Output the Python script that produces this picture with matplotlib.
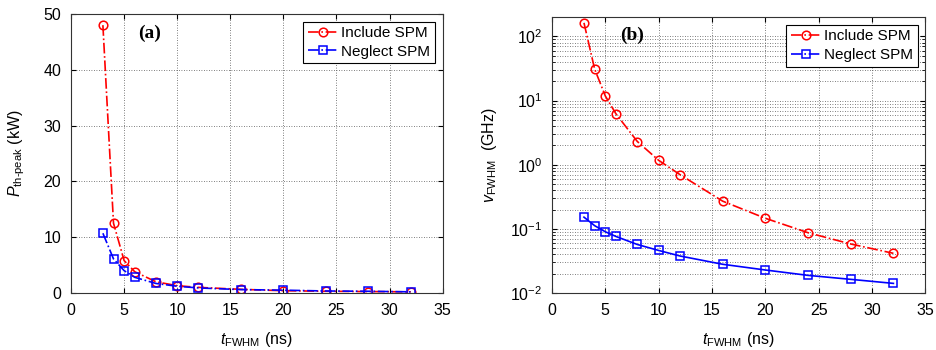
import matplotlib.pyplot as plt
import matplotlib.ticker as ticker
from matplotlib.lines import Line2D

plt.rcParams['font.family'] = ['Liberation Sans', 'DejaVu Sans']
plt.rcParams['mathtext.fontset'] = 'custom'
plt.rcParams['mathtext.rm'] = 'Liberation Sans'
plt.rcParams['mathtext.it'] = 'Liberation Sans:italic'

t_fwhm = [3, 4, 5, 6, 8, 10, 12, 16, 20, 24, 28, 32]

# (a) threshold peak power, kW
p_include = [48.0, 12.5, 5.8, 3.8, 2.0, 1.3, 1.0, 0.65, 0.4, 0.3, 0.25, 0.2]
p_neglect = [10.7, 6.1, 4.0, 2.8, 1.7, 1.2, 0.9, 0.6, 0.5, 0.35, 0.3, 0.2]

# (b) spectral width, GHz
v_include = [163, 31, 11.8, 6.2, 2.3, 1.17, 0.70, 0.27, 0.146, 0.087, 0.058, 0.0415]
v_neglect = [0.152, 0.112, 0.090, 0.076, 0.057, 0.046, 0.0377, 0.028, 0.0228, 0.0188, 0.0163, 0.0141]

RED = '#ff0000'
BLUE = '#0000ff'
MS = 6.2

fig = plt.figure(figsize=(9.36, 3.5), dpi=100)
ax1 = fig.add_axes([0.0759, 0.163, 0.397, 0.797])
ax2 = fig.add_axes([0.5897, 0.163, 0.399, 0.788])

grid_kw = dict(color='#555555', linestyle=(0, (1, 2)), linewidth=0.6)

# ---- (a)
ax1.plot(t_fwhm, p_include, color=RED, linestyle='-.', linewidth=1.2,
         marker='o', markersize=MS, markerfacecolor='none', markeredgewidth=1.1)
ax1.plot(t_fwhm, p_neglect, color=BLUE, linestyle='-.', linewidth=1.2,
         marker='s', markersize=MS, markerfacecolor='none', markeredgewidth=1.1)
ax1.set_xlim(0, 35)
ax1.set_ylim(0, 50)
ax1.xaxis.set_major_locator(ticker.MultipleLocator(5))
ax1.yaxis.set_major_locator(ticker.MultipleLocator(10))
ax1.grid(True, which='major', **grid_kw)
ax1.set_xlabel(r'$t_{\mathrm{FWHM}}$ (ns)', fontsize=11.5, labelpad=9)
ax1.set_ylabel(r'$P_{\mathrm{th}\text{-}\mathrm{peak}}$ (kW)', fontsize=11.5, labelpad=12)
ax1.text(0.18, 0.932, '(a)', transform=ax1.transAxes, fontsize=14,
         fontweight='bold', family='Liberation Serif', va='center', ha='left')

# ---- (b)
ax2.plot(t_fwhm, v_include, color=RED, linestyle='-.', linewidth=1.2,
         marker='o', markersize=MS, markerfacecolor='none', markeredgewidth=1.1)
ax2.plot(t_fwhm, v_neglect, color=BLUE, linestyle='-', linewidth=1.2,
         marker='s', markersize=MS, markerfacecolor='none', markeredgewidth=1.1)
ax2.set_yscale('log')
ax2.set_xlim(0, 35)
ax2.set_ylim(1e-2, 200)
ax2.xaxis.set_major_locator(ticker.MultipleLocator(5))
ax2.yaxis.set_major_locator(ticker.LogLocator(base=10, numticks=10))
ax2.yaxis.set_minor_locator(ticker.LogLocator(base=10, subs=range(2, 10), numticks=20))
ax2.yaxis.set_minor_formatter(ticker.NullFormatter())
ax2.grid(True, which='both', **grid_kw)
ax2.set_xlabel(r'$t_{\mathrm{FWHM}}$ (ns)', fontsize=11.5, labelpad=9)
ax2.set_ylabel(r'$v_{\mathrm{FWHM}}$  (GHz)', fontsize=11.5, labelpad=8)
ax2.text(0.183, 0.935, '(b)', transform=ax2.transAxes, fontsize=14,
         fontweight='bold', family='Liberation Serif', va='center', ha='left')

handles = [
    Line2D([], [], color=RED, linestyle='-.', linewidth=1.2, marker='o',
           markersize=MS, markerfacecolor='none', markeredgewidth=1.1),
    Line2D([], [], color=BLUE, linestyle='-.', linewidth=1.2, marker='s',
           markersize=MS, markerfacecolor='none', markeredgewidth=1.1),
]
labels = ['Include SPM', 'Neglect SPM']

for ax in (ax1, ax2):
    ax.tick_params(which='both', direction='in', top=True, right=True,
                   labelsize=11.5, pad=7)
    ax.tick_params(which='minor', length=2)
    for s in ax.spines.values():
        s.set_linewidth(0.8)
        s.set_color('#333333')
    ax.set_axisbelow(True)
    leg = ax.legend(handles, labels, loc='upper right', fontsize=11,
                    fancybox=False, framealpha=1, edgecolor='black',
                    borderaxespad=0.5, handlelength=2.0, handletextpad=0.2,
                    borderpad=0.3, labelspacing=0.3)
    leg.get_frame().set_linewidth(0.8)

fig.savefig('out.png', dpi=100)
